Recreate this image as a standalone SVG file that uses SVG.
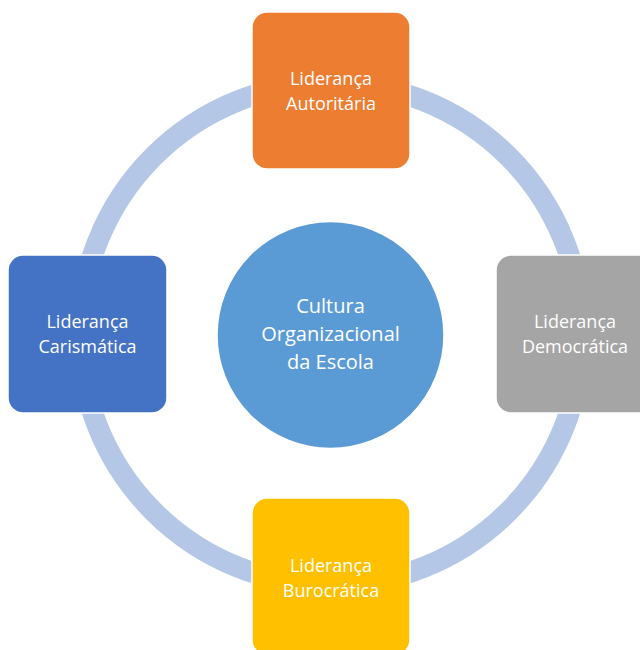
<svg xmlns="http://www.w3.org/2000/svg" width="640" height="650" viewBox="0 0 640 650">
  <style>
    .box { stroke: #ffffff; stroke-width: 1.5; }
    .lbl { font-family: "Open Sans", "Noto Sans", sans-serif; font-size: 18px; fill: #ffffff; text-anchor: middle; }
    .hub { font-family: "Open Sans", "Noto Sans", sans-serif; font-size: 20px; fill: #ffffff; text-anchor: middle; }
  </style>
  <rect width="640" height="650" fill="#ffffff"/>

  <!-- ring connecting the four leadership styles -->
  <g id="connectors">
    <circle cx="331" cy="334" r="251" fill="none" stroke="#b4c7e7" stroke-width="21"/>
  </g>

  <g id="hub">
    <circle cx="330.5" cy="335" r="113.5" fill="#5b9bd5" stroke="#ffffff" stroke-width="1.5"/>
    <text class="hub" x="330.5" y="313">Cultura</text>
    <text class="hub" x="330.5" y="341">Organizacional</text>
    <text class="hub" x="330.5" y="369">da Escola</text>
  </g>

  <g id="autoritaria">
    <rect class="box" x="252" y="12" width="158" height="157" rx="15" fill="#ed7d31"/>
    <text class="lbl" x="331" y="85">Liderança</text>
    <text class="lbl" x="331" y="110">Autoritária</text>
  </g>

  <g id="democratica">
    <rect class="box" x="496" y="255" width="158" height="158" rx="15" fill="#a5a5a5"/>
    <text class="lbl" x="575" y="328">Liderança</text>
    <text class="lbl" x="575" y="353">Democrática</text>
  </g>

  <g id="burocratica">
    <rect class="box" x="252" y="498" width="158" height="157" rx="15" fill="#ffc000"/>
    <text class="lbl" x="331" y="572">Liderança</text>
    <text class="lbl" x="331" y="597">Burocrática</text>
  </g>

  <g id="carismatica">
    <rect class="box" x="8" y="255" width="159" height="158" rx="15" fill="#4472c4"/>
    <text class="lbl" x="87.5" y="328">Liderança</text>
    <text class="lbl" x="87.5" y="353">Carismática</text>
  </g>
</svg>
